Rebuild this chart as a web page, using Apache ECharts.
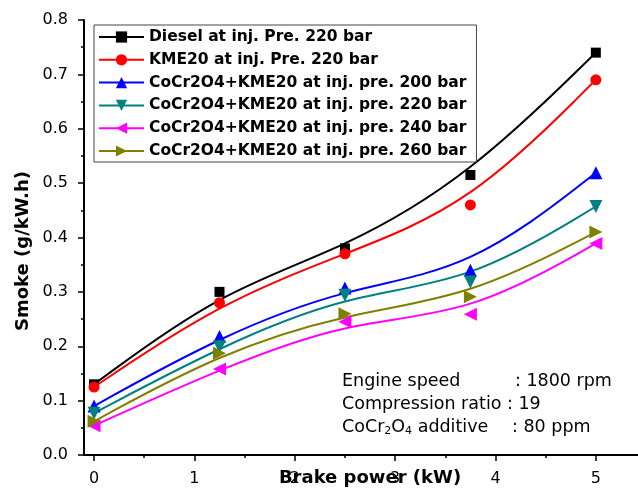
<!DOCTYPE html>
<html>
<head>
<meta charset="utf-8">
<script src="https://cdn.jsdelivr.net/npm/echarts@6/dist/echarts.min.js"></script>
<style>
  html, body { margin: 0; padding: 0; background: #fff; }
  #chart { width: 638px; height: 491px; }
</style>
</head>
<body>
<div id="chart"></div>
<script>
// Brake power levels at which smoke was measured (kW)
const powerLevels = [0, 1.25, 2.5, 3.75, 5];

// Measured smoke (g/kW.h) for each fuel / injection pressure
const smokeDiesel = [0.13, 0.30, 0.38, 0.515, 0.74];
const smokeKME20 = [0.125, 0.28, 0.37, 0.46, 0.69];
const smokeAdd200 = [0.09, 0.218, 0.307, 0.34, 0.519];
const smokeAdd220 = [0.077, 0.199, 0.294, 0.318, 0.457];
const smokeAdd240 = [0.054, 0.158, 0.245, 0.259, 0.389];
const smokeAdd260 = [0.062, 0.187, 0.26, 0.291, 0.41];

const seriesNames = [
  'Diesel at inj. Pre. 220 bar',
  'KME20 at inj. Pre. 220 bar',
  'CoCr2O4+KME20 at inj. pre. 200 bar',
  'CoCr2O4+KME20 at inj. pre. 220 bar',
  'CoCr2O4+KME20 at inj. pre. 240 bar',
  'CoCr2O4+KME20 at inj. pre. 260 bar'
];

// Axis tick positions
const xTickValues = [0, 1, 2, 3, 4, 5];
const xMinorTickValues = [0.5, 1.5, 2.5, 3.5, 4.5];

const measured = [smokeDiesel, smokeKME20, smokeAdd200, smokeAdd220, smokeAdd240, smokeAdd260];

const styles = [
  { color: '#000000', symbol: 'rect', size: 10, rotate: 0 },
  { color: '#ff0000', symbol: 'circle', size: 11, rotate: 0 },
  { color: '#0000ff', symbol: 'triangle', size: 13, rotate: 0 },
  { color: '#008080', symbol: 'triangle', size: 13, rotate: 180 },
  { color: '#ff00ff', symbol: 'triangle', size: 13, rotate: 90 },
  { color: '#808000', symbol: 'triangle', size: 13, rotate: -90 }
];

// Cubic B-spline through the measured points used as control points.
// End points are repeated three times so the curve starts and ends on them.
function bsplinePath(api, xs, ys) {
  const n = xs.length;
  const order = [0, 0].concat(xs.map((_, k) => k), [n - 1, n - 1]);
  const p = order.map(k => api.coord([xs[k], ys[k]]));
  const f = v => v[0].toFixed(2) + ' ' + v[1].toFixed(2);
  let d = '';
  for (let s = 0; s + 3 < p.length; s++) {
    const a = p[s], b = p[s + 1], c = p[s + 2], e = p[s + 3];
    const start = [(a[0] + 4 * b[0] + c[0]) / 6, (a[1] + 4 * b[1] + c[1]) / 6];
    const c1 = [(2 * b[0] + c[0]) / 3, (2 * b[1] + c[1]) / 3];
    const c2 = [(b[0] + 2 * c[0]) / 3, (b[1] + 2 * c[1]) / 3];
    const end = [(b[0] + 4 * c[0] + e[0]) / 6, (b[1] + 4 * c[1] + e[1]) / 6];
    if (s === 0) d += 'M' + f(start);
    d += ' C' + f(c1) + ' ' + f(c2) + ' ' + f(end);
  }
  return d;
}

const series = [];
seriesNames.forEach((name, i) => {
  const st = styles[i];
  // smooth trend curve
  series.push({
    name: name + ' trend',
    type: 'custom',
    data: [[powerLevels[0], measured[i][0]]],
    clip: false,
    silent: true,
    z: 2,
    renderItem: (params, api) => ({
      type: 'path',
      shape: { pathData: bsplinePath(api, powerLevels, measured[i]) },
      style: { stroke: st.color, lineWidth: 2, fill: 'none' }
    })
  });
  // measured points (line hidden; the trend curve replaces it)
  series.push({
    name: name,
    type: 'line',
    data: powerLevels.map((x, k) => [x, measured[i][k]]),
    showSymbol: true,
    symbol: st.symbol,
    symbolSize: st.size,
    symbolRotate: st.rotate,
    lineStyle: { color: st.color, width: 2, opacity: 0 },
    itemStyle: { color: st.color, opacity: 1 },
    emphasis: { disabled: true },
    silent: true,
    z: 3
  });
});

const labelFont = 'DejaVu Sans';
const chart = echarts.init(document.getElementById('chart'), null, { renderer: 'canvas' });

chart.setOption({
  animation: false,
  backgroundColor: '#ffffff',
  grid: { left: 84, right: 0, top: 20, bottom: 36, containLabel: false, outerBoundsMode: 'none' },
  legend: {
    data: seriesNames.map(n => ({ name: n, lineStyle: { opacity: 1 } })),
    orient: 'vertical',
    left: 94,
    top: 25,
    padding: [4, 10, 3, 4],
    itemWidth: 45,
    itemHeight: 14,
    itemGap: 6.8,
    borderColor: '#444',
    borderWidth: 1,
    selectedMode: false,
    textStyle: {
      fontFamily: labelFont,
      fontWeight: 'bold',
      fontSize: 15.5,
      lineHeight: 16,
      color: '#000'
    }
  },
  xAxis: [
    {
      type: 'value',
      min: -0.1,
      max: 5.42,
      position: 'bottom',
      axisLine: { show: true, onZero: false, lineStyle: { color: '#000', width: 2 } },
      axisTick: { show: true, customValues: xTickValues, length: 6, lineStyle: { color: '#000', width: 1.5 } },
      axisLabel: { show: true, customValues: xTickValues, margin: 16, color: '#000', fontFamily: labelFont, fontSize: 16 },
      splitLine: { show: false },
      name: 'Brake power (kW)',
      nameLocation: 'middle',
      nameGap: 14,
      nameMoveOverlap: false,
      nameTextStyle: { fontFamily: labelFont, fontWeight: 'bold', fontSize: 18, color: '#000', padding: [0, 0, 0, 18] }
    },
    {
      type: 'value',
      min: -0.1,
      max: 5.42,
      position: 'bottom',
      axisLine: { show: false },
      axisTick: { show: true, customValues: xMinorTickValues, length: 3, lineStyle: { color: '#000', width: 1.5 } },
      axisLabel: { show: false },
      splitLine: { show: false }
    }
  ],
  yAxis: {
    type: 'value',
    min: 0,
    max: 0.8,
    interval: 0.1,
    axisLine: { show: true, onZero: false, lineStyle: { color: '#000', width: 2 } },
    axisTick: { show: true, length: 6, lineStyle: { color: '#000', width: 1.5 } },
    minorTick: { show: true, splitNumber: 2, length: 3, lineStyle: { color: '#000', width: 1.5 } },
    axisLabel: { margin: 16, color: '#000', fontFamily: labelFont, fontSize: 16, formatter: v => v.toFixed(1) },
    splitLine: { show: false },
    name: 'Smoke (g/kW.h)',
    nameLocation: 'middle',
    nameGap: 52,
    nameMoveOverlap: false,
    nameTextStyle: { fontFamily: labelFont, fontWeight: 'bold', fontSize: 18, color: '#000', padding: [0, 27, 0, 0] }
  },
  graphic: [
    { type: 'text', x: 342, y: 381, style: { text: 'Engine speed', font: '17.5px "DejaVu Sans"', fill: '#000', verticalAlign: 'middle' } },
    { type: 'text', x: 515, y: 381, style: { text: ': 1800 rpm', font: '17.5px "DejaVu Sans"', fill: '#000', verticalAlign: 'middle' } },
    { type: 'text', x: 342, y: 404, style: { text: 'Compression ratio : 19', font: '17.5px "DejaVu Sans"', fill: '#000', verticalAlign: 'middle' } },
    {
      type: 'text', x: 342, y: 427,
      style: {
        text: '{a|CoCr}{b|2}{a|O}{b|4}{a| additive}',
        verticalAlign: 'middle',
        rich: {
          a: { fontFamily: labelFont, fontSize: 17.5, lineHeight: 22, fill: '#000', color: '#000' },
          b: { fontFamily: labelFont, fontSize: 11, lineHeight: 14, padding: [8, 0, 0, 0], fill: '#000', color: '#000' }
        }
      }
    },
    { type: 'text', x: 512, y: 427, style: { text: ': 80 ppm', font: '17.5px "DejaVu Sans"', fill: '#000', verticalAlign: 'middle' } }
  ],
  series: series
});
</script>
</body>
</html>
